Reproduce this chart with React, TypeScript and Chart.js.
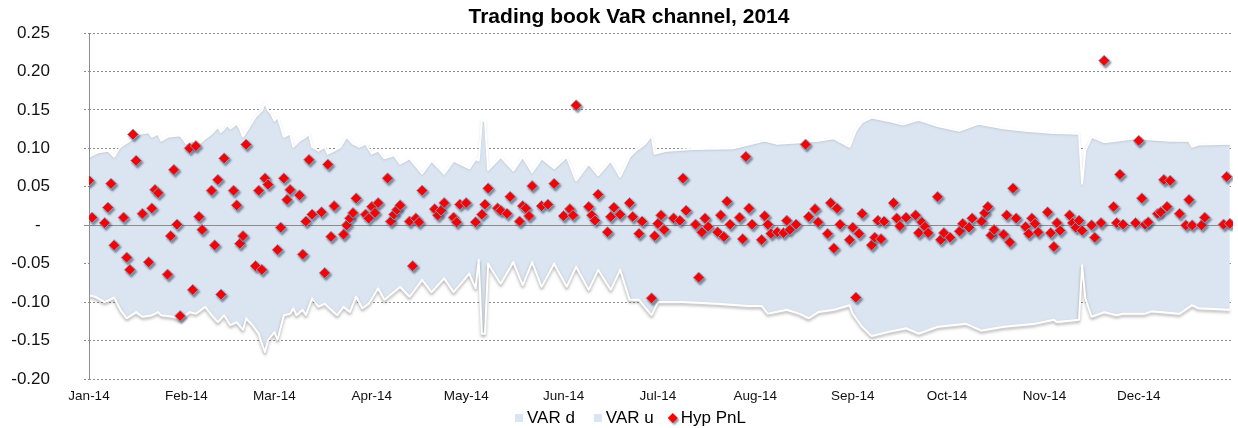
import React, { useEffect, useRef } from 'react';
import { Chart, registerables } from 'chart.js';

Chart.register(...registerables);

const TITLE = 'Trading book VaR channel, 2014';
const legendLabels = ['VAR d', 'VAR u', 'Hyp PnL'];

// x axis: day of year 2014 (0 = 1 Jan)
const monthStartDays = [0, 31, 59, 90, 120, 151, 181, 212, 243, 273, 304, 334];
const monthLabels = ['Jan-14', 'Feb-14', 'Mar-14', 'Apr-14', 'May-14', 'Jun-14', 'Jul-14', 'Aug-14', 'Sep-14', 'Oct-14', 'Nov-14', 'Dec-14'];
const yTickValues = [-0.2, -0.15, -0.1, -0.05, 0, 0.05, 0.1, 0.15, 0.2, 0.25];

// VAR u (upper band)
const varUDays = [0, 3, 6, 8, 10, 13, 16, 19, 20, 22, 23, 25, 29, 31, 33, 35, 37, 39, 41, 42, 44, 45, 47, 48, 49, 51, 53, 55, 56, 57, 58, 59, 60, 62, 64, 65, 67, 69, 70, 71, 73, 75, 76, 78, 80, 82, 84, 86, 88, 90, 92, 94, 97, 99, 102, 106, 109, 113, 116, 121, 123, 124, 125, 126, 127, 131, 135, 138, 141, 144, 148, 152, 155, 159, 162, 166, 169, 172, 174, 177, 179, 180, 184, 192, 205, 215, 219, 226, 232, 237, 242, 244, 246, 249, 254, 259, 264, 270, 277, 283, 291, 298, 307, 315, 316, 317, 319, 323, 333, 344, 350, 351, 353, 363];
const varU = [0.089, 0.095, 0.097, 0.089, 0.102, 0.110, 0.119, 0.121, 0.115, 0.119, 0.110, 0.115, 0.117, 0.106, 0.110, 0.106, 0.113, 0.119, 0.128, 0.121, 0.130, 0.126, 0.132, 0.126, 0.115, 0.128, 0.141, 0.149, 0.160, 0.149, 0.145, 0.136, 0.141, 0.115, 0.119, 0.102, 0.110, 0.115, 0.119, 0.102, 0.097, 0.102, 0.093, 0.097, 0.102, 0.115, 0.106, 0.102, 0.106, 0.093, 0.097, 0.087, 0.091, 0.080, 0.087, 0.067, 0.084, 0.067, 0.084, 0.074, 0.086, 0.084, 0.136, 0.136, 0.072, 0.089, 0.071, 0.089, 0.069, 0.087, 0.074, 0.089, 0.058, 0.080, 0.065, 0.084, 0.063, 0.089, 0.097, 0.106, 0.117, 0.093, 0.097, 0.099, 0.100, 0.110, 0.106, 0.108, 0.110, 0.113, 0.102, 0.123, 0.134, 0.140, 0.136, 0.131, 0.137, 0.129, 0.123, 0.132, 0.126, 0.123, 0.120, 0.119, 0.054, 0.097, 0.115, 0.108, 0.113, 0.110, 0.110, 0.102, 0.105, 0.106];

// VAR d (lower band)
const varDDays = [0, 2, 5, 8, 10, 12, 15, 17, 20, 22, 23, 27, 29, 32, 34, 37, 39, 41, 43, 45, 47, 49, 50, 52, 54, 55, 56, 57, 59, 60, 62, 64, 65, 66, 68, 69, 71, 73, 75, 76, 79, 81, 83, 85, 87, 89, 92, 94, 99, 102, 106, 109, 113, 116, 121, 123, 124, 125, 126, 127, 131, 135, 138, 141, 144, 148, 152, 155, 159, 162, 166, 169, 172, 175, 179, 181, 189, 200, 210, 214, 216, 222, 226, 229, 232, 237, 242, 243, 246, 249, 254, 260, 264, 270, 279, 284, 291, 301, 307, 308, 315, 316, 317, 319, 323, 327, 329, 336, 338, 347, 351, 353, 363];
const varD = [-0.091, -0.093, -0.100, -0.094, -0.110, -0.121, -0.113, -0.119, -0.117, -0.113, -0.117, -0.119, -0.123, -0.113, -0.115, -0.106, -0.117, -0.126, -0.117, -0.130, -0.126, -0.136, -0.121, -0.130, -0.141, -0.154, -0.165, -0.149, -0.139, -0.149, -0.117, -0.115, -0.108, -0.117, -0.110, -0.117, -0.095, -0.106, -0.102, -0.106, -0.117, -0.106, -0.113, -0.093, -0.108, -0.102, -0.082, -0.097, -0.080, -0.093, -0.071, -0.087, -0.069, -0.087, -0.063, -0.082, -0.045, -0.141, -0.141, -0.050, -0.076, -0.048, -0.078, -0.048, -0.080, -0.050, -0.080, -0.054, -0.084, -0.058, -0.084, -0.058, -0.097, -0.097, -0.117, -0.100, -0.100, -0.102, -0.105, -0.105, -0.115, -0.110, -0.115, -0.121, -0.113, -0.110, -0.104, -0.115, -0.132, -0.144, -0.139, -0.134, -0.141, -0.132, -0.128, -0.137, -0.132, -0.128, -0.123, -0.126, -0.123, -0.052, -0.095, -0.119, -0.113, -0.117, -0.115, -0.115, -0.112, -0.115, -0.104, -0.108, -0.110];

// Hyp PnL
const pnlDays = [0, 1, 5, 6, 7, 8, 11, 12, 13, 14, 15, 17, 19, 20, 21, 22, 25, 26, 27, 28, 29, 32, 33, 34, 35, 36, 39, 40, 41, 42, 43, 46, 47, 48, 49, 50, 53, 54, 55, 56, 57, 60, 61, 62, 63, 64, 67, 68, 69, 70, 71, 74, 75, 76, 77, 78, 81, 82, 83, 84, 85, 88, 89, 90, 91, 92, 95, 96, 97, 98, 99, 102, 103, 104, 105, 106, 110, 111, 112, 113, 116, 117, 118, 120, 123, 125, 126, 127, 130, 131, 133, 134, 137, 138, 139, 140, 141, 144, 146, 148, 151, 153, 154, 155, 159, 160, 161, 162, 165, 166, 167, 169, 172, 173, 175, 176, 179, 180, 181, 182, 183, 186, 188, 189, 190, 193, 194, 195, 196, 197, 200, 201, 202, 203, 204, 207, 208, 209, 210, 211, 214, 215, 216, 217, 219, 221, 222, 223, 225, 228, 229, 231, 232, 235, 236, 237, 238, 239, 242, 243, 244, 245, 246, 249, 250, 251, 252, 253, 256, 257, 258, 260, 263, 264, 265, 266, 267, 270, 271, 272, 274, 277, 278, 280, 281, 284, 285, 286, 287, 288, 291, 292, 293, 294, 295, 298, 299, 300, 301, 302, 305, 306, 307, 308, 309, 312, 313, 314, 315, 316, 319, 320, 322, 323, 326, 327, 328, 329, 333, 334, 335, 336, 337, 340, 341, 342, 343, 344, 347, 349, 350, 351, 354, 355, 361, 362, 363];
const pnl = [0.058, 0.010, 0.003, 0.023, 0.054, -0.026, 0.010, -0.042, -0.058, 0.118, 0.084, 0.015, -0.048, 0.022, 0.046, 0.042, -0.064, -0.014, 0.072, 0.001, -0.118, 0.100, -0.084, 0.103, 0.011, -0.006, 0.045, -0.026, 0.059, -0.090, 0.087, 0.045, 0.026, -0.024, -0.014, 0.105, -0.053, 0.045, -0.058, 0.061, 0.053, -0.032, -0.003, 0.061, 0.033, 0.046, 0.039, -0.038, 0.005, 0.085, 0.014, 0.017, -0.062, 0.079, -0.015, 0.025, -0.012, 0.000, 0.009, 0.016, 0.035, 0.014, 0.009, 0.024, 0.016, 0.029, 0.061, 0.005, 0.014, 0.020, 0.026, 0.005, -0.053, 0.009, 0.004, 0.045, 0.021, 0.013, 0.019, 0.029, 0.010, 0.004, 0.027, 0.029, 0.004, 0.014, 0.027, 0.048, 0.022, 0.019, 0.015, 0.037, 0.005, 0.025, 0.022, 0.012, 0.051, 0.025, 0.027, 0.054, 0.012, 0.021, 0.013, 0.156, 0.024, 0.013, 0.006, 0.040, -0.009, 0.011, 0.023, 0.014, 0.029, 0.011, -0.011, 0.005, -0.095, -0.014, 0.002, 0.013, -0.006, 0.009, 0.006, 0.061, 0.019, 0.001, -0.068, -0.009, 0.009, -0.002, -0.009, 0.013, -0.015, 0.031, 0.001, 0.010, -0.018, 0.089, 0.022, 0.001, -0.019, 0.012, 0.001, -0.011, -0.009, -0.010, 0.006, -0.006, 0.001, 0.105, 0.011, 0.021, 0.004, -0.011, 0.029, -0.030, 0.022, 0.001, -0.019, -0.003, -0.094, -0.011, 0.015, -0.026, -0.016, 0.006, -0.018, 0.005, 0.029, 0.009, -0.001, 0.010, 0.013, -0.010, 0.004, -0.002, -0.010, 0.037, -0.019, -0.010, -0.016, -0.008, 0.002, -0.003, 0.009, 0.005, 0.016, 0.024, -0.013, -0.006, -0.012, 0.013, -0.022, 0.048, 0.009, -0.002, -0.011, 0.009, 0.002, -0.009, 0.017, -0.010, -0.028, 0.003, -0.007, 0.013, 0.003, -0.003, 0.006, -0.007, 0.000, -0.016, 0.003, 0.214, 0.024, 0.003, 0.066, 0.001, 0.003, 0.110, 0.035, 0.001, 0.004, 0.015, 0.017, 0.059, 0.024, 0.058, 0.015, 0.000, 0.033, 0.000, 0.000, 0.010, 0.001, 0.063, 0.002];

const FONT = "'Liberation Sans', Arial, Helvetica, sans-serif";
const BAND = '#DBE5F1';
const RED = '#FF0000';
const GRID = '#8c8c8c';
const SHADOW_PT = 'rgba(60,72,100,0.6)';

const decorPlugin = {
  id: 'decor',
  beforeDatasetDraw(chart: any, args: any) {
    const ctx = chart.ctx;
    if (args.index === 2) {
      const { left, right, top, bottom } = chart.chartArea;
      const y = Math.round(chart.scales.y.getPixelForValue(0)) + 0.5;
      const ax = Math.round(left) + 0.5;
      ctx.save();
      ctx.strokeStyle = GRID;
      ctx.lineWidth = 1;
      ctx.beginPath();
      ctx.moveTo(left - 5, y);
      ctx.lineTo(right, y);
      ctx.moveTo(ax, top);
      ctx.lineTo(ax, bottom);
      ctx.stroke();
      ctx.restore();
      ctx.save();
      ctx.shadowColor = SHADOW_PT;
      ctx.shadowOffsetX = 1.5;
      ctx.shadowOffsetY = 2;
      ctx.shadowBlur = 2;
    } else if (args.index === 0) {
      ctx.save();
      ctx.shadowColor = 'rgba(90,90,90,0.55)';
      ctx.shadowOffsetY = 2;
      ctx.shadowBlur = 3;
    } else {
      ctx.save();
      ctx.shadowColor = 'rgba(120,120,120,0.25)';
      ctx.shadowOffsetY = 1;
      ctx.shadowBlur = 2;
    }
  },
  afterDatasetDraw(chart: any) {
    chart.ctx.restore();
  },
  afterDraw(chart: any) {
    const ctx = chart.ctx;
    ctx.save();
    ctx.fillStyle = '#000';
    ctx.font = `bold 21px ${FONT}`;
    ctx.textAlign = 'center';
    ctx.textBaseline = 'middle';
    ctx.fillText(TITLE, 629, 17);

    // legend
    ctx.font = `17px ${FONT}`;
    ctx.textAlign = 'left';
    const cy = 418;
    const gaps = [19, 14];
    let x = 515;
    legendLabels.forEach((label, i) => {
      if (i < 2) {
        ctx.fillStyle = BAND;
        ctx.fillRect(x, cy - 4, 8, 8);
        x += 12;
      } else {
        ctx.save();
        ctx.shadowColor = SHADOW_PT;
        ctx.shadowOffsetX = 1.5;
        ctx.shadowOffsetY = 2;
        ctx.shadowBlur = 2;
        ctx.fillStyle = RED;
        ctx.beginPath();
        ctx.moveTo(x, cy);
        ctx.lineTo(x + 5, cy - 5);
        ctx.lineTo(x + 10, cy);
        ctx.lineTo(x + 5, cy + 5);
        ctx.closePath();
        ctx.fill();
        ctx.restore();
        x += 13;
      }
      ctx.fillStyle = '#000';
      ctx.fillText(label, x, cy);
      x += ctx.measureText(label).width + (gaps[i] ?? 0);
    });
    ctx.restore();
  },
};

export default function App() {
  const canvasRef = useRef<HTMLCanvasElement | null>(null);

  useEffect(() => {
    const canvas = canvasRef.current;
    if (!canvas) return;
    const chart = new Chart(canvas, {
      type: 'line',
      data: {
        datasets: [
          {
            label: legendLabels[0],
            data: varDDays.map((d, i) => ({ x: d, y: varD[i] })),
            fill: 'origin',
            backgroundColor: BAND,
            borderColor: '#ffffff',
            borderWidth: 2,
            borderJoinStyle: 'round',
            pointRadius: 0,
            tension: 0,
            order: 1,
          },
          {
            label: legendLabels[1],
            data: varUDays.map((d, i) => ({ x: d, y: varU[i] })),
            fill: 'origin',
            backgroundColor: BAND,
            borderColor: '#ffffff',
            borderWidth: 2,
            borderJoinStyle: 'round',
            pointRadius: 0,
            tension: 0,
            order: 2,
          },
          {
            label: legendLabels[2],
            data: pnlDays.map((d, i) => ({ x: d, y: pnl[i] })),
            showLine: false,
            pointStyle: 'rectRot',
            pointRadius: 5.5,
            pointBackgroundColor: RED,
            pointBorderColor: 'rgba(150,160,185,0.9)',
            pointBorderWidth: 1,
            backgroundColor: RED,
            borderColor: 'rgba(150,160,185,0.9)',
            order: 0,
          },
        ] as any,
      },
      options: {
        animation: false,
        responsive: false,
        devicePixelRatio: 1,
        layout: { autoPadding: false, padding: { top: 33, bottom: 23, left: 0, right: 5 } },
        plugins: {
          legend: { display: false },
          title: { display: false },
          tooltip: { enabled: false },
        },
        scales: {
          x: {
            type: 'linear',
            min: 0,
            max: 364,
            afterBuildTicks: (s: any) => {
              s.ticks = monthStartDays.map((v) => ({ value: v }));
            },
            afterFit: (s: any) => {
              s.height = 26;
              s.paddingLeft = 0;
              s.paddingRight = 0;
            },
            grid: { display: false, drawTicks: false },
            border: { display: false },
            ticks: {
              autoSkip: false,
              maxRotation: 0,
              padding: 9,
              color: '#111',
              font: { family: FONT, size: 13.5 },
              callback: (v: any) => {
                const i = monthStartDays.indexOf(Number(v));
                return i >= 0 ? monthLabels[i] : '';
              },
            },
          },
          y: {
            min: -0.2,
            max: 0.25,
            afterBuildTicks: (s: any) => {
              s.ticks = yTickValues.map((v) => ({ value: v }));
            },
            afterFit: (s: any) => {
              s.width = 89;
              s.paddingTop = 0;
              s.paddingBottom = 0;
            },
            grid: {
              color: GRID,
              lineWidth: 1,
              tickLength: 5,
              tickColor: GRID,
              tickBorderDash: [2, 2],
            },
            border: { display: false, color: GRID, width: 1, dash: [2, 2] },
            ticks: {
              padding: 34,
              color: '#111',
              font: { family: FONT, size: 17 },
              callback: (v: any) => (Math.abs(Number(v)) < 1e-9 ? '-  ' : Number(v).toFixed(2)),
            },
          },
        },
      } as any,
      plugins: [decorPlugin],
    });
    return () => chart.destroy();
  }, []);

  return (
    <div style={{ position: 'absolute', left: 0, top: 0, width: 1238, height: 428, background: '#fff' }}>
      <canvas ref={canvasRef} width={1238} height={428} style={{ display: 'block', width: 1238, height: 428 }} />
    </div>
  );
}
